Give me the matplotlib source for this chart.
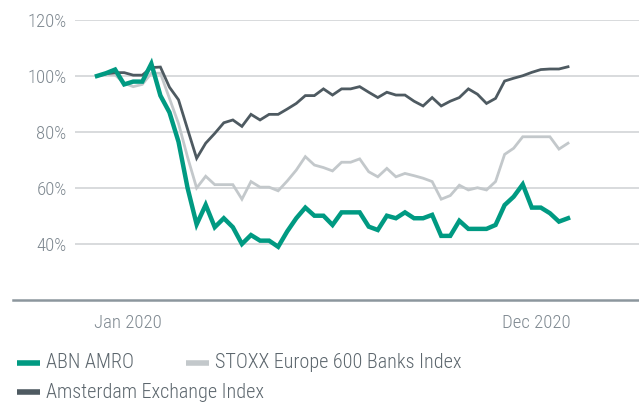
import numpy as np
import matplotlib
matplotlib.use("Agg")
import matplotlib.pyplot as plt
from matplotlib.lines import Line2D

plt.rcParams['font.family'] = ['Roboto Condensed', 'DejaVu Sans']
plt.rcParams['font.weight'] = 'light'

# weekly share price development, indexed (start = 100%)
abn_amro = [100, 101, 102.3, 97, 98, 98, 104.4, 93, 87, 76.5,
            60, 47, 54, 46, 49.2, 46, 40, 43.2, 41.2, 41.2,
            39, 44.5, 49.2, 53, 50.1, 50.1, 46.8, 51.3, 51.3, 51.3,
            46.2, 45, 50.1, 49.2, 51.3, 49.2, 49.2, 50.4, 42.9, 42.9,
            48.3, 45.4, 45.4, 45.4, 46.8, 53.9, 56.9, 61.3, 53, 53,
            51, 48, 49.2]
stoxx_banks = [100, 100.6, 100.4, 97.4, 96.2, 97, 101, 101, 92, 83,
               71, 60, 64.2, 61.2, 61.2, 61.2, 56, 62.3, 60.3, 60.3,
               59, 62.5, 66.4, 71.2, 68.2, 67.3, 66.1, 69.2, 69.2, 70.4,
               65.8, 64, 67, 64, 65.2, 64.4, 63.5, 62.3, 56, 57.3,
               61, 59.3, 60.1, 59.3, 62.3, 72, 74.2, 78.3, 78.3, 78.3,
               78.3, 73.9, 76]
aex = [100, 100.8, 101.2, 101.2, 100.3, 100.3, 103, 103.2, 96, 91.5,
       81, 70.6, 76, 79.5, 83.3, 84.3, 82, 86.3, 84.3, 86.3,
       86.3, 88.2, 90.2, 93, 93, 95.4, 93.2, 95.4, 95.4, 96.2,
       94.2, 92.3, 94.2, 93.2, 93.2, 91, 89.3, 92.3, 89.3, 91,
       92.3, 95.4, 93.5, 90.2, 92, 98.2, 99.2, 100.1, 101.3, 102.3,
       102.5, 102.5, 103.3]

weeks = np.arange(len(abn_amro))
tick_pos = [3.4, 48.5]
tick_labels = ['Jan 2020', 'Dec 2020']
y_ticks = [40, 60, 80, 100, 120]

GREEN = '#009a82'
DARK = '#4e5a61'
LIGHT = '#c3c8cb'
TICK_COL = '#7e8890'
TEXT_COL = '#5c666d'

W, H = 639, 403
fig = plt.figure(figsize=(W / 100, H / 100), dpi=100)
ax = fig.add_axes([75 / W, 1 - 300 / H, 1 - 75 / W, 280 / H])

ax.plot(weeks, stoxx_banks, color=LIGHT, lw=2.0, solid_joinstyle='miter', zorder=3)
ax.plot(weeks, aex, color=DARK, lw=2.0, solid_joinstyle='miter', zorder=4)
ax.plot(weeks, abn_amro, color=GREEN, lw=3.2, solid_joinstyle='miter', zorder=5)

ax.set_xlim(-22 / 9.06, 52 + 71 / 9.06)
ax.set_ylim(20, 120)
ax.set_yticks(y_ticks)
ax.set_yticklabels([f'{v}%' for v in y_ticks])
ax.set_xticks(tick_pos)
ax.set_xticklabels(tick_labels)
ax.tick_params(axis='both', length=0, labelsize=13.5, labelcolor=TICK_COL)
ax.tick_params(axis='y', pad=6)
ax.tick_params(axis='x', pad=10)
ax.yaxis.grid(True, color='#d8dbdd', lw=1.4)
ax.set_axisbelow(True)
for s in ax.spines.values():
    s.set_visible(False)

# bottom axis line runs further left than the gridlines
fig.add_artist(Line2D([13 / W, 1], [1 - 300 / H] * 2, transform=fig.transFigure,
                      color='#8c969d', lw=1.8))

# legend drawn by hand
legend_items = [('ABN AMRO', GREEN, 17, 363),
                ('STOXX Europe 600 Banks Index', LIGHT, 186, 363),
                ('Amsterdam Exchange Index', DARK, 17, 392)]
for label, col, x0, y0 in legend_items:
    fig.add_artist(Line2D([x0 / W, (x0 + 23) / W], [1 - y0 / H] * 2,
                          transform=fig.transFigure, color=col, lw=4,
                          solid_capstyle='butt'))
    fig.text((x0 + 29) / W, 1 - y0 / H, label, fontsize=14.5, color=TEXT_COL,
             va='center', ha='left')

fig.savefig('out.png', dpi=100)
